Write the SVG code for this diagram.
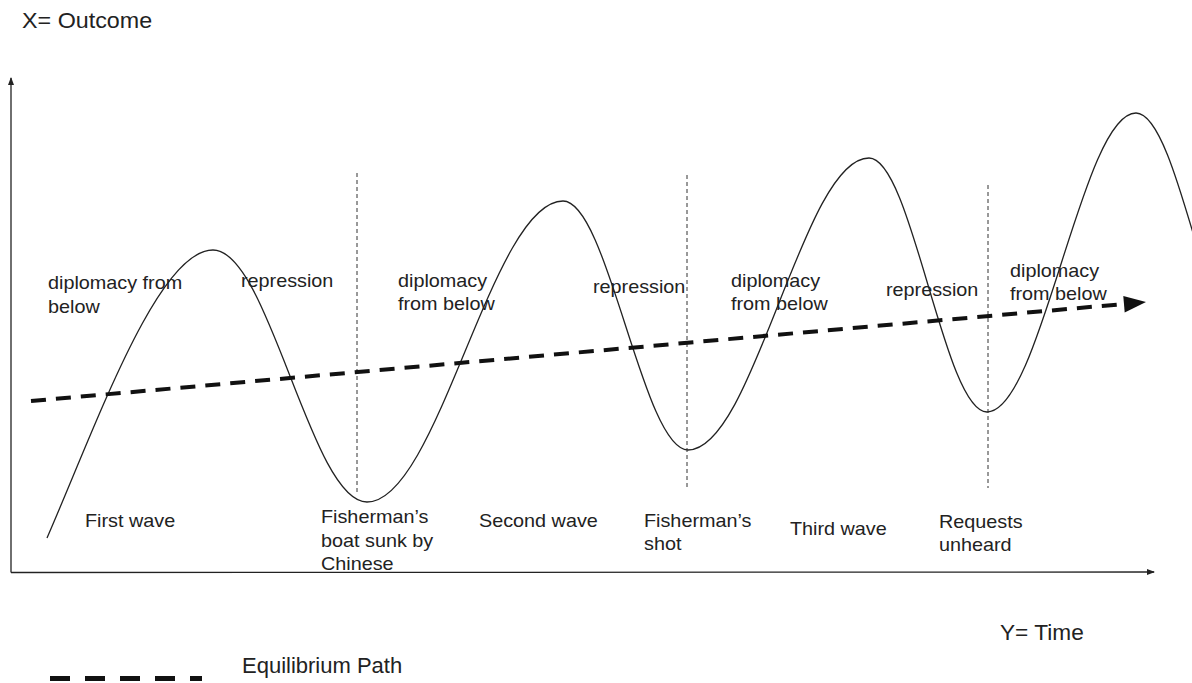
<svg xmlns="http://www.w3.org/2000/svg" width="1192" height="683" viewBox="0 0 1192 683">
  <defs>
    <marker id="axisArrow" markerWidth="8" markerHeight="8" refX="7" refY="4" orient="auto" markerUnits="userSpaceOnUse">
      <path d="M0,1 L8,4 L0,7 Z" fill="#222"/>
    </marker>
    <style>
      .lbl { font-family: "Liberation Sans", Arial, sans-serif; font-size: 18px; fill: #222; }
      .big { font-family: "Liberation Sans", Arial, sans-serif; font-size: 22px; fill: #222; }
      .axis { stroke: #222; stroke-width: 1.3; fill: none; }
      .wave { stroke: #222; stroke-width: 1.3; fill: none; }
      .vdot { stroke: #333; stroke-width: 1; stroke-dasharray: 4 3; fill: none; }
      .eq { stroke: #111; stroke-width: 4; stroke-dasharray: 15 10; fill: none; }
    </style>
  </defs>
  <rect width="1192" height="683" fill="#fff"/>

  <g id="axes">
    <line class="axis" x1="11" y1="572.5" x2="11" y2="78" marker-end="url(#axisArrow)"/>
    <line class="axis" x1="11" y1="572.5" x2="1154" y2="572" marker-end="url(#axisArrow)"/>
  </g>

  <g id="connectors">
    <path id="wave" class="wave" d="M47,538 C97,423 158,250 213,250 C269,250 311,502 367,502 C438,502 492,201 563,201 C608,201 643,450 688,450 C754,450 803,158 869,158 C912,158 944,412 987,412 C1041,412 1082,113 1136,113 C1180,113 1214,380 1258,380"/>
    <line class="vdot" x1="357" y1="173" x2="357" y2="493"/>
    <line class="vdot" x1="687" y1="175" x2="687" y2="490"/>
    <line class="vdot" x1="988" y1="185" x2="988" y2="488"/>
    <g id="equilibrium">
      <line class="eq" x1="31" y1="401" x2="1124" y2="304"/>
      <polygon points="1146,302 1123.3,296 1124.7,312.5" fill="#111"/>
    </g>
  </g>

  <g id="n-diplo1"><text class="lbl" transform="translate(48,289) scale(1.1,1)"><tspan x="0" y="0">diplomacy from</tspan><tspan x="0" y="24">below</tspan></text></g>
  <g id="n-rep1"><text class="lbl" transform="translate(241,287) scale(1.1,1)">repression</text></g>
  <g id="n-diplo2"><text class="lbl" transform="translate(398,287) scale(1.1,1)"><tspan x="0" y="0">diplomacy</tspan><tspan x="0" y="23.5">from below</tspan></text></g>
  <g id="n-rep2"><text class="lbl" transform="translate(593,293) scale(1.1,1)">repression</text></g>
  <g id="n-diplo3"><text class="lbl" transform="translate(731,287) scale(1.1,1)"><tspan x="0" y="0">diplomacy</tspan><tspan x="0" y="23">from below</tspan></text></g>
  <g id="n-rep3"><text class="lbl" transform="translate(886,296) scale(1.1,1)">repression</text></g>
  <g id="n-diplo4"><text class="lbl" transform="translate(1010,277) scale(1.1,1)"><tspan x="0" y="0">diplomacy</tspan><tspan x="0" y="23">from below</tspan></text></g>

  <g id="n-first"><text class="lbl" transform="translate(85,527) scale(1.1,1)">First wave</text></g>
  <g id="n-boat"><text class="lbl" transform="translate(321,523) scale(1.1,1)"><tspan x="0" y="0">Fisherman’s</tspan><tspan x="0" y="24">boat sunk by</tspan><tspan x="0" y="47.5">Chinese</tspan></text></g>
  <g id="n-second"><text class="lbl" transform="translate(479,527) scale(1.1,1)">Second wave</text></g>
  <g id="n-shot"><text class="lbl" transform="translate(644,527) scale(1.1,1)"><tspan x="0" y="0">Fisherman’s</tspan><tspan x="0" y="23.5">shot</tspan></text></g>
  <g id="n-third"><text class="lbl" transform="translate(790,535) scale(1.1,1)">Third wave</text></g>
  <g id="n-requests"><text class="lbl" transform="translate(939,528) scale(1.1,1)"><tspan x="0" y="0">Requests</tspan><tspan x="0" y="23">unheard</tspan></text></g>

  <g id="n-xlabel"><text class="big" transform="translate(22,28) scale(1.06,1)">X= Outcome</text></g>
  <g id="n-ylabel"><text class="big" transform="translate(1000,640) scale(1.03,1)">Y= Time</text></g>

  <g id="legend">
    <line x1="50" y1="678.5" x2="202" y2="678.5" stroke="#111" stroke-width="5" stroke-dasharray="20 15"/>
    <text class="big" transform="translate(242,673) scale(1.0,1)">Equilibrium Path</text>
  </g>
</svg>
